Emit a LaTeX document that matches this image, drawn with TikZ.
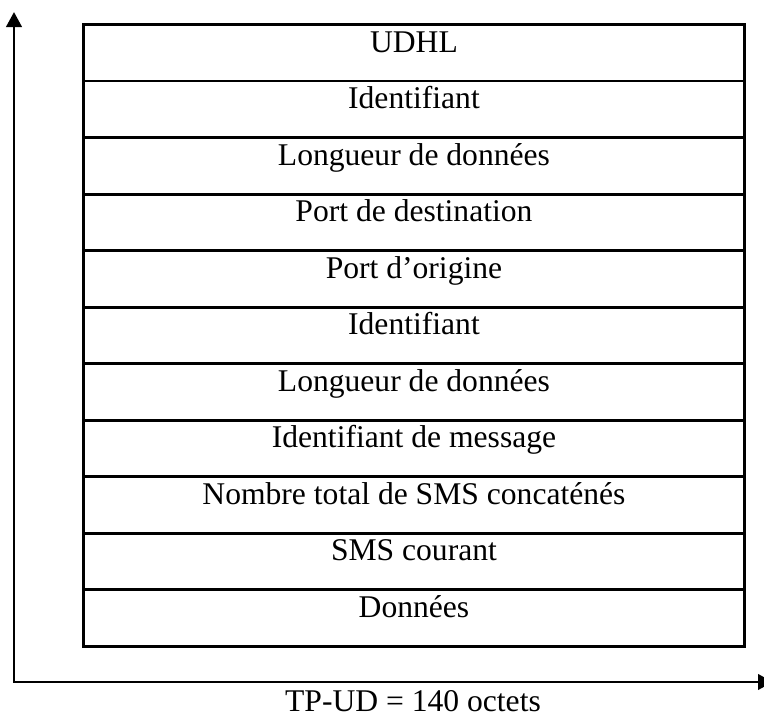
\documentclass[tikz,border=0pt]{standalone}
\usepackage{fontspec}
\setmainfont{Liberation Serif}
\usetikzlibrary{arrows.meta}
\begin{document}
\begin{tikzpicture}[x=0.75pt,y=-0.75pt,
  field/.style={draw, line width=2.2pt, minimum width=495.75pt,
    minimum height=42.41pt, inner sep=0pt, anchor=north west},
  fieldtext/.style={anchor=base, inner sep=0pt,
    font=\fontsize{23.7pt}{28pt}\selectfont},
  axis/.style={line width=2.2pt, line join=miter,
    {Triangle[length=11.25pt,width=11.5pt]}-{Triangle[length=11.25pt,width=11.5pt]}}]
  \useasboundingbox (0,0) rectangle (764,714);

  % stacked fields of the user data header
  \foreach \txt [count=\i] in {UDHL, Identifiant, Longueur de données,
      Port de destination, Port d’origine, Identifiant,
      Longueur de données, Identifiant de message,
      Nombre total de SMS concaténés, SMS courant, Données} {
    \node[field] (r\i) at (82, {23+(\i-1)*56.545}) {};
    \node[fieldtext] (t\i) at ([yshift=-21.75pt]r\i.north) {\txt};
  }

  % axes
  \coordinate (ytip) at (14,12);
  \coordinate (xtip) at (773,682);
  \draw[axis] (ytip) |- (xtip);

  \node[fieldtext] (axl) at (413,711) {TP-UD = 140 octets};
\end{tikzpicture}
\end{document}
